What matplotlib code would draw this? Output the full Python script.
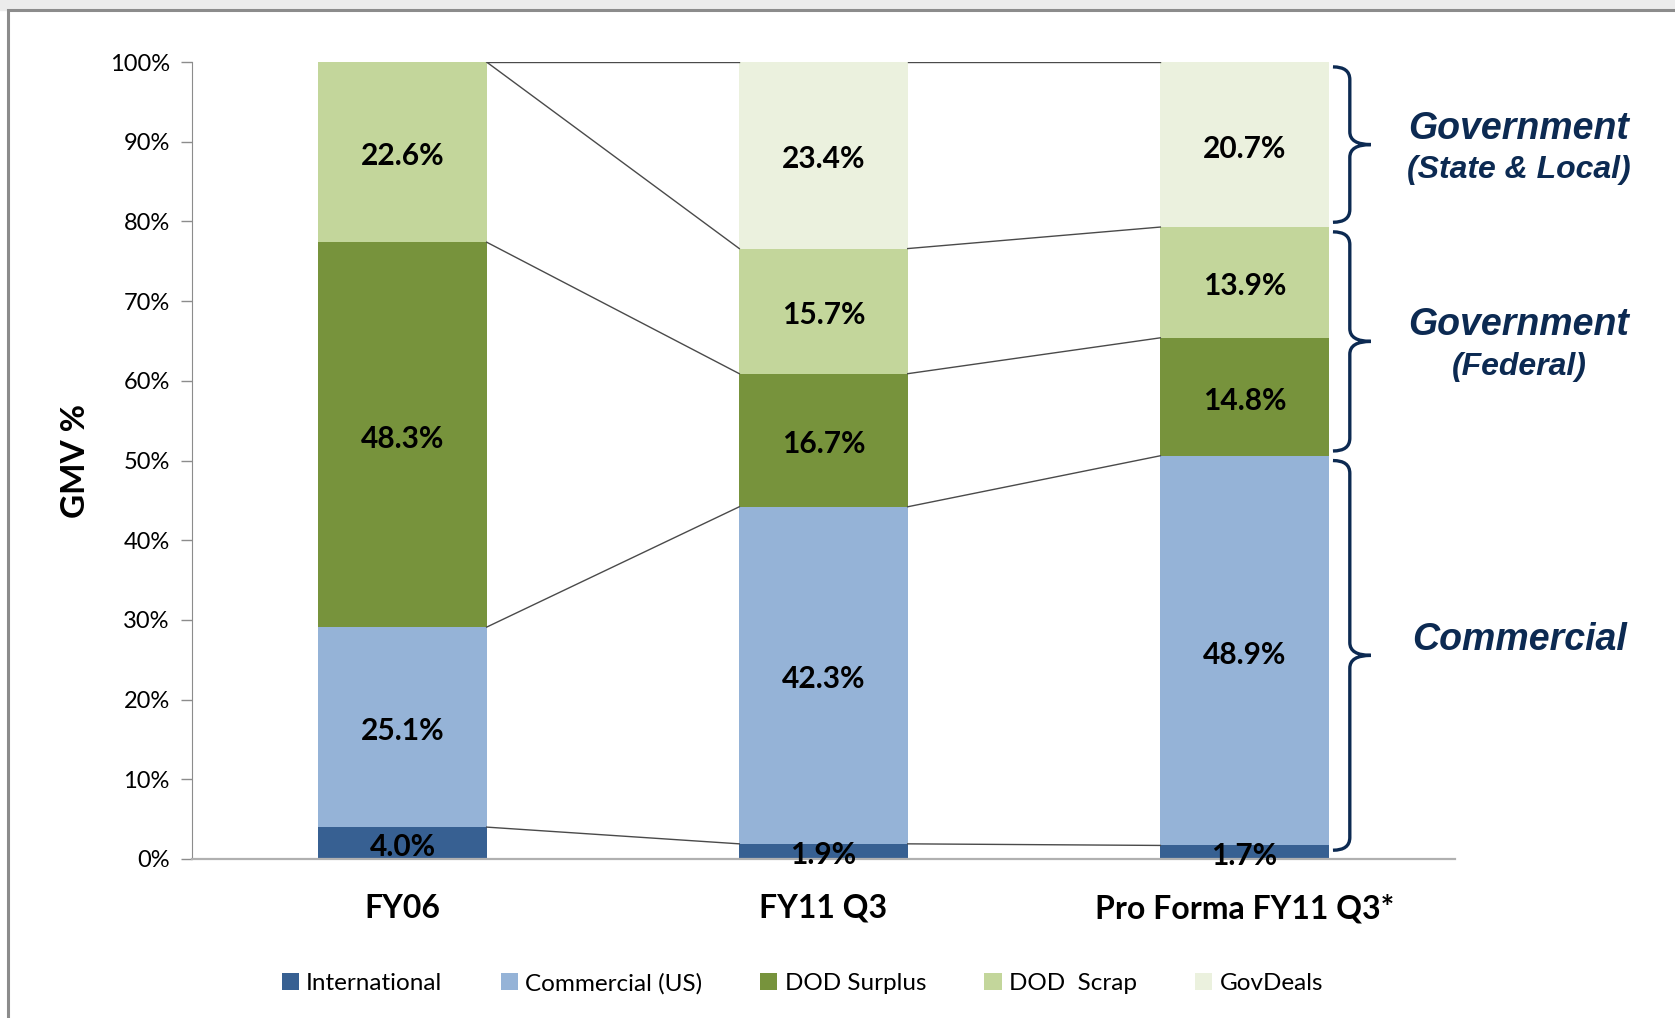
import matplotlib
matplotlib.use("Agg")
import matplotlib.pyplot as plt
import numpy as np
from matplotlib.patches import PathPatch, Rectangle
from matplotlib.path import Path

categories = ["FY06", "FY11 Q3", "Pro Forma FY11 Q3*"]
series_names = ["International", "Commercial (US)", "DOD Surplus", "DOD  Scrap", "GovDeals"]
international = [4.0, 1.9, 1.7]
commercial = [25.1, 42.3, 48.9]
dod_surplus = [48.3, 16.7, 14.8]
dod_scrap = [22.6, 15.7, 13.9]
govdeals = [0.0, 23.4, 20.7]
colors = ["#376092", "#95b3d7", "#77933c", "#c3d69b", "#ebf1de"]

group_labels = [("Government", "(State & Local)"), ("Government", "(Federal)"), ("Commercial", None)]

navy = "#0c2a52"
plt.rcParams["font.family"] = ["Lato", "DejaVu Sans"]

fig = plt.figure(figsize=(16.75, 10.18), dpi=100)
ax = fig.add_axes([0.1146, 0.1562, 0.7541, 0.7828])

# frame around the chart
fig.patches.append(Rectangle((0, 0.990), 1, 0.01, transform=fig.transFigure,
                             color="#ececec", zorder=0))
fig.patches.append(Rectangle((0.0048, -0.05), 1.1, 1.04, transform=fig.transFigure,
                             fill=False, edgecolor="#8c8c8c", linewidth=2.2, zorder=1))

series = [international, commercial, dod_surplus, dod_scrap, govdeals]
x = np.arange(len(categories))
width = 0.4
bottom = np.zeros(len(categories))
tops = []
for name, vals, col in zip(series_names, series, colors):
    vals = np.array(vals)
    ax.bar(x, vals, width, bottom=bottom, color=col, label=name, zorder=2)
    for xi, v, b in zip(x, vals, bottom):
        if v > 0:
            ax.text(xi, b + v / 2 - 0.5, f"{v:.1f}%", ha="center", va="center",
                    fontsize=21.5, fontweight="bold", color="black", zorder=4)
    bottom = bottom + vals
    tops.append(bottom.copy())

# series lines between bars
for t in tops:
    for i in range(len(categories) - 1):
        ax.plot([x[i] + width / 2, x[i + 1] - width / 2], [t[i], t[i + 1]],
                color="#4a4a4a", linewidth=1.0, zorder=3)


def brace(ax, xb, y0, y1, r=1.6):
    xe, xm, xt = xb - 0.04, xb, xb + 0.05
    ym = (y0 + y1) / 2
    verts = [(xe, y1), (xm, y1), (xm, y1 - r),
             (xm, ym + r),
             (xm, ym), (xt, ym),
             (xm, ym), (xm, ym - r),
             (xm, y0 + r),
             (xm, y0), (xe, y0)]
    codes = [Path.MOVETO, Path.CURVE3, Path.CURVE3,
             Path.LINETO,
             Path.CURVE3, Path.CURVE3,
             Path.CURVE3, Path.CURVE3,
             Path.LINETO,
             Path.CURVE3, Path.CURVE3]
    ax.add_patch(PathPatch(Path(verts, codes), fill=False, edgecolor=navy,
                           linewidth=2.4, clip_on=False, zorder=5))
    return ym


pf = [t[-1] for t in tops]
ranges = [(pf[3], pf[4]), (pf[1], pf[3]), (0.5, pf[1])]
label_style = dict(ha="center", va="center", fontweight="bold", fontstyle="italic",
                   color=navy, family="Liberation Sans", clip_on=False)
for (y0, y1), (main, sub) in zip(ranges, group_labels):
    y0 = y0 + 0.6
    y1 = y1 - 0.6
    ym = brace(ax, 2.25, y0, y1)
    if sub:
        ax.text(2.652, ym + 2.0, main, fontsize=27, **label_style)
        ax.text(2.652, ym - 3.2, sub, fontsize=23, **label_style)
    else:
        ax.text(2.652, ym + 1.9, main, fontsize=27, **label_style)

ax.set_xlim(-0.5, 2.5)
ax.set_ylim(0, 100)
ax.set_yticks(np.arange(0, 101, 10))
ax.set_yticklabels([f"{v}%" for v in range(0, 101, 10)], fontsize=17)
ax.set_xticks(x)
ax.set_xticklabels(categories, fontsize=23, fontweight="bold")
ax.tick_params(axis="x", length=0, pad=25)
ax.tick_params(axis="y", direction="out", length=8, width=1, color="#8c8c8c", pad=8)
ax.set_ylabel("GMV %", fontsize=24, fontweight="bold", labelpad=14)
for side in ["top", "right"]:
    ax.spines[side].set_visible(False)
ax.spines["left"].set_color("#8c8c8c")
ax.spines["bottom"].set_color("#b0b0b0")
ax.spines["bottom"].set_linewidth(1.6)

fig.legend(loc="center", bbox_to_anchor=(0.479, 0.034), ncol=5, frameon=False,
           fontsize=17.5, handlelength=0.7, handleheight=0.7, handletextpad=0.3,
           columnspacing=2.4)

fig.savefig("out.png", dpi=100)
